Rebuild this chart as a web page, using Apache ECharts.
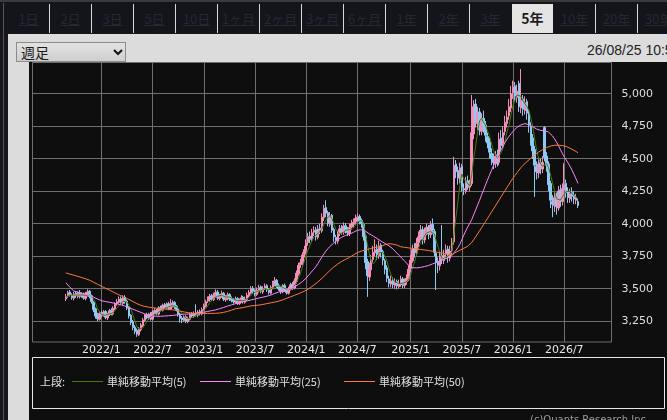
<!DOCTYPE html>
<html><head><meta charset="utf-8">
<script src="https://cdn.jsdelivr.net/npm/echarts@6.0.0/dist/echarts.min.js"></script>
<style>
html,body{margin:0;padding:0;width:667px;height:420px;overflow:hidden;background:#16181d;}
.abs{position:absolute;}
#topline{left:0;top:0;width:667px;height:2px;background:#3a3a3a;}
#tabs{left:0;top:2px;width:667px;height:31px;background:#13151a;}
.sep{top:4px;width:1px;height:29px;background:#d8d8d8;}
.tab{top:4px;height:29px;width:41px;text-align:center;line-height:29px;font-size:13px;font-family:"Noto Sans CJK JP",sans-serif;color:#25282e;text-decoration:underline;}
.tab.sel{background:#e4e4e4;color:#1e1e1e;font-weight:bold;font-size:14px;text-decoration:none;}
#leftline{left:3px;top:3px;width:1px;height:417px;background:#555;}
#panel{left:8px;top:34px;width:659px;height:386px;background:#dcdcdc;}
#plotbg{left:29px;top:62px;width:638px;height:358px;background:#0e0e0e;}
#dd{left:16px;top:42px;width:108px;height:18px;border:1px solid #8c8c8c;background:linear-gradient(#e2e2e2,#cfcfcf);}
#ddtext{left:4px;top:-1px;font-size:14px;line-height:20px;font-family:"Noto Sans CJK JP",sans-serif;color:#1a1a1a;}
#ddchev{left:96px;top:6px;}
#ts{left:587px;top:42px;font-size:14px;line-height:16px;font-family:"Liberation Sans",Arial,sans-serif;color:#222;white-space:nowrap;}
#chart{left:0;top:0;width:667px;height:420px;}
</style></head>
<body>
<div id="topline" class="abs"></div>
<div id="tabs" class="abs"></div>
<div id="leftline" class="abs"></div>
<div id="panel" class="abs"></div>
<div id="plotbg" class="abs"></div>
<div id="dd" class="abs"><div id="ddtext" class="abs">週足</div>
<svg id="ddchev" class="abs" width="10" height="7" viewBox="0 0 10 7"><polyline points="1,1 5,5 9,1" fill="none" stroke="#111" stroke-width="2"/></svg></div>
<div id="ts" class="abs">26/08/25 10:55</div>
<div id="chart" class="abs"></div>
<script>
// ---- chrome texts ----
const tabLabels = ["1日","2日","3日","5日","10日","1ヶ月","2ヶ月","3ヶ月","6ヶ月","1年","2年","3年","5年","10年","20年","30年"];
const selectedTab = "5年";

// ---- chart data (weekly, first week 2021/8/30) ----
const firstWeek = [2021, 8, 30];
const yTicks = [3250, 3500, 3750, 4000, 4250, 4500, 4750, 5000];
const maNames = ["単純移動平均(5)", "単純移動平均(25)", "単純移動平均(50)"];

const opens = [3420,3445,3475,3450,3425,3465,3440,3470,3445,3455,
3425,3455,3480,3445,3395,3345,3300,3265,3315,3295,
3325,3275,3300,3335,3305,3345,3385,3395,3425,3385,
3435,3405,3355,3295,3245,3205,3180,3145,3185,3215,
3255,3300,3275,3305,3265,3315,3335,3305,3355,3335,
3375,3355,3385,3345,3365,3395,3365,3345,3305,3275,
3255,3285,3245,3265,3305,3285,3315,3295,3325,3305,
3335,3365,3405,3415,3445,3415,3445,3475,3425,3445,
3465,3415,3425,3455,3425,3415,3395,3425,3385,3405,
3435,3395,3415,3445,3465,3505,3485,3455,3485,3515,
3475,3505,3525,3495,3465,3505,3535,3565,3525,3505,
3475,3525,3495,3465,3495,3535,3505,3555,3615,3685,
3695,3765,3795,3855,3905,3875,3935,3955,3895,3965,
3945,4045,4125,4085,3995,4065,3955,3895,3865,3925,
3965,3935,3985,3955,3925,3975,3995,4015,4035,4055,
4025,3995,3905,3710,3590,3645,3725,3775,3805,3755,
3835,3785,3715,3660,3575,3535,3565,3525,3555,3515,
3535,3575,3525,3555,3575,3655,3715,3805,3775,3855,
3895,3955,3875,3945,3975,3915,3995,3940,3775,3705,
3675,3755,3715,3765,3805,3735,3795,3860,4460,4410,
4340,4440,4270,4250,4330,4280,4310,4690,4920,4770,
4860,4710,4810,4760,4670,4630,4540,4510,4460,4530,
4470,4660,4590,4710,4770,4830,4890,5010,5060,4970,
5080,4890,4960,4870,4940,4860,4750,4660,4570,4440,
4390,4470,4420,4740,4520,4460,4310,4170,4140,4210,
4120,4260,4170,4260,4310,4250,4190,4240,4220,4180,
4170];

const closes = [3440,3470,3455,3430,3460,3445,3465,3440,3450,3430,
3460,3475,3440,3400,3340,3290,3270,3310,3300,3320,
3280,3300,3330,3310,3350,3380,3400,3420,3390,3430,
3400,3350,3290,3240,3200,3170,3150,3190,3220,3260,
3290,3280,3300,3270,3320,3330,3310,3350,3340,3370,
3360,3380,3350,3370,3390,3360,3340,3300,3270,3260,
3280,3250,3270,3300,3290,3310,3300,3320,3310,3340,
3370,3400,3420,3440,3420,3450,3470,3430,3440,3460,
3420,3430,3450,3420,3410,3400,3420,3390,3410,3430,
3400,3420,3450,3470,3500,3480,3460,3490,3510,3480,
3500,3520,3490,3470,3510,3540,3560,3520,3500,3480,
3520,3490,3470,3500,3530,3510,3560,3620,3680,3700,
3760,3800,3850,3900,3880,3930,3950,3900,3960,3950,
4050,4120,4080,4000,4060,3950,3900,3870,3920,3960,
3940,3980,3950,3930,3970,4000,4010,4040,4050,4020,
4000,3900,3700,3600,3650,3720,3780,3800,3760,3830,
3780,3720,3650,3580,3540,3560,3530,3550,3520,3540,
3570,3530,3550,3580,3650,3720,3800,3780,3850,3900,
3950,3880,3940,3970,3920,3990,3950,3780,3700,3680,
3750,3720,3760,3800,3740,3790,3850,4450,4400,4350,
4430,4280,4260,4320,4290,4300,4700,4900,4780,4850,
4720,4800,4750,4680,4620,4550,4500,4470,4520,4480,
4650,4600,4700,4780,4820,4900,5000,5050,4980,5020,
4900,4950,4880,4930,4850,4760,4650,4560,4450,4400,
4460,4430,4470,4510,4450,4300,4180,4150,4200,4130,
4250,4180,4270,4300,4240,4200,4230,4210,4190,4200,
4140];

const lows = [3405,3430,3440,3415,3410,3430,3425,3425,3430,3415,
3410,3440,3425,3385,3320,3270,3250,3255,3280,3285,
3265,3260,3290,3295,3295,3335,3370,3385,3375,3375,
3385,3335,3270,3220,3180,3150,3130,3135,3170,3205,
3245,3265,3260,3255,3255,3305,3295,3295,3325,3325,
3345,3345,3335,3335,3355,3345,3325,3285,3240,3235,
3245,3235,3235,3255,3275,3275,3285,3280,3295,3295,
3325,3355,3390,3400,3405,3405,3430,3415,3410,3430,
3405,3400,3410,3405,3395,3385,3385,3375,3375,3395,
3385,3385,3405,3430,3455,3465,3440,3445,3470,3465,
3460,3490,3475,3455,3455,3495,3520,3505,3485,3460,
3465,3475,3455,3455,3485,3490,3495,3540,3600,3660,
3680,3740,3780,3830,3850,3860,3905,3870,3880,3920,
3930,4020,4050,3980,3975,3930,3860,3840,3845,3905,
3915,3915,3925,3905,3905,3955,3970,3990,4010,3995,
3970,3870,3650,3437,3560,3620,3700,3750,3720,3730,
3740,3680,3610,3550,3510,3510,3505,3500,3495,3500,
3515,3505,3505,3530,3560,3630,3700,3740,3750,3820,
3870,3840,3850,3910,3880,3890,3920,3750,3490,3620,
3640,3690,3690,3730,3700,3710,3760,3840,4350,4300,
4310,4250,4220,4230,4260,4250,4290,4650,4740,4720,
4680,4680,4700,4630,4580,4500,4450,4420,4430,4440,
4450,4560,4570,4680,4740,4800,4860,4960,4940,4930,
4860,4850,4830,4840,4800,4700,4600,4500,4206,4340,
4350,4380,4390,4480,4400,4250,4120,4050,4090,4070,
4100,4130,4140,4230,4200,4160,4160,4170,4150,4150,
4120];

const highs = [3460,3485,3490,3465,3475,3480,3480,3490,3470,3470,
3475,3495,3490,3455,3405,3355,3315,3325,3330,3335,
3335,3315,3345,3350,3365,3395,3420,3440,3440,3450,
3450,3415,3365,3305,3260,3220,3195,3205,3235,3275,
3305,3315,3315,3320,3335,3350,3345,3365,3370,3385,
3390,3395,3400,3420,3410,3405,3375,3355,3315,3290,
3295,3295,3285,3315,3320,3325,3380,3335,3340,3355,
3385,3415,3440,3460,3460,3470,3495,3490,3460,3485,
3475,3450,3470,3465,3440,3430,3440,3435,3425,3450,
3445,3440,3470,3490,3520,3520,3495,3510,3530,3525,
3520,3540,3535,3505,3525,3560,3590,3575,3540,3515,
3535,3540,3505,3515,3545,3550,3580,3640,3700,3730,
3780,3830,3880,3930,3940,3960,3980,3975,3990,4000,
4080,4145,4180,4100,4090,4075,3970,3915,3945,3990,
3990,4010,4005,3975,4000,4030,4040,4070,4080,4070,
4040,4010,3920,3730,3700,3760,3830,3880,3840,3870,
3850,3800,3730,3680,3600,3600,3590,3580,3570,3570,
3600,3590,3580,3610,3680,3760,3840,3850,3890,3940,
3990,3980,3970,4000,3990,4020,4040,3960,3800,3740,
3790,3990,3800,3840,3830,3830,3890,4515,4490,4440,
4470,4460,4310,4360,4370,4340,4990,4950,4960,4900,
4890,4850,4870,4790,4700,4660,4580,4540,4560,4570,
4700,4720,4750,4830,4870,4960,5060,5100,5090,5070,
5100,5190,4990,4980,4960,4880,4780,4690,4600,4480,
4510,4500,4520,4750,4550,4480,4330,4220,4250,4240,
4290,4300,4310,4465,4340,4280,4270,4280,4250,4230,
4190];

const ma5 = [3435,3445,3450,3445,3451,3452,3451,3448,3452,3446,
3449,3451,3451,3441,3423,3389,3348,3322,3302,3298,
3296,3302,3306,3308,3314,3334,3354,3372,3388,3404,
3408,3398,3372,3342,3296,3250,3210,3190,3186,3198,
3222,3248,3270,3280,3292,3300,3306,3316,3330,3340,
3346,3360,3360,3366,3370,3370,3362,3352,3332,3306,
3290,3272,3266,3272,3278,3284,3294,3304,3306,3316,
3328,3348,3368,3394,3410,3426,3440,3442,3442,3450,
3444,3436,3440,3436,3426,3422,3420,3408,3406,3410,
3410,3410,3422,3434,3448,3464,3472,3480,3488,3484,
3488,3500,3500,3492,3498,3506,3514,3520,3526,3520,
3516,3502,3492,3492,3502,3500,3514,3544,3580,3614,
3664,3712,3758,3802,3838,3872,3902,3912,3924,3938,
3962,3996,4032,4040,4062,4042,3998,3956,3940,3920,
3918,3934,3950,3952,3954,3966,3972,3990,4014,4024,
4024,4002,3934,3844,3770,3714,3690,3710,3742,3778,
3790,3778,3748,3712,3654,3610,3572,3552,3540,3540,
3542,3542,3542,3554,3576,3606,3660,3706,3760,3810,
3856,3872,3904,3928,3932,3940,3954,3922,3868,3820,
3772,3726,3722,3742,3754,3762,3788,3926,4046,4168,
4296,4382,4344,4328,4316,4290,4374,4502,4594,4706,
4790,4810,4780,4760,4714,4680,4620,4564,4532,4504,
4524,4544,4590,4642,4710,4760,4840,4910,4950,4990,
4990,4980,4946,4936,4902,4874,4814,4750,4654,4564,
4504,4460,4442,4454,4464,4432,4382,4318,4256,4192,
4182,4182,4206,4226,4248,4238,4248,4236,4214,4206,
4194];

const ma25 = [3545,3530,3510,3495,3482,3476,3473,3470,3466,3462,
3458,3454,3448,3442,3435,3428,3421,3414,3408,3404,
3401,3398,3396,3393,3390,3387,3383,3379,3375,3371,
3366,3360,3354,3348,3342,3336,3330,3324,3318,3312,
3306,3301,3296,3293,3290,3289,3288,3288,3288,3289,
3290,3291,3292,3293,3294,3296,3298,3300,3302,3303,
3304,3305,3305,3305,3306,3307,3309,3311,3313,3316,
3319,3322,3325,3328,3331,3334,3337,3341,3346,3351,
3356,3361,3366,3371,3376,3380,3384,3388,3392,3396,
3400,3403,3406,3410,3414,3418,3421,3424,3428,3432,
3435,3438,3442,3446,3451,3458,3464,3469,3474,3478,
3482,3486,3490,3494,3500,3506,3514,3522,3532,3543,
3554,3566,3582,3600,3618,3636,3652,3672,3695,3720,
3745,3768,3790,3808,3825,3838,3852,3864,3875,3886,
3896,3904,3910,3915,3920,3926,3934,3942,3950,3954,
3953,3950,3943,3932,3922,3914,3905,3896,3886,3876,
3866,3856,3848,3840,3830,3820,3806,3790,3774,3758,
3744,3728,3712,3696,3680,3668,3662,3660,3660,3662,
3664,3666,3670,3674,3678,3684,3690,3696,3702,3708,
3714,3720,3726,3732,3738,3745,3755,3775,3795,3815,
3840,3878,3912,3945,3975,4002,4030,4068,4105,4143,
4180,4220,4258,4297,4335,4372,4408,4444,4479,4512,
4542,4570,4598,4626,4652,4672,4692,4710,4726,4742,
4752,4760,4766,4770,4768,4762,4754,4746,4736,4728,
4722,4718,4716,4715,4713,4705,4692,4676,4655,4630,
4602,4572,4542,4514,4490,4466,4440,4410,4378,4344,
4310];

const ma50 = [3622,3617,3612,3608,3604,3600,3595,3591,3586,3581,
3576,3571,3565,3558,3550,3542,3534,3527,3519,3511,
3504,3497,3490,3482,3474,3466,3459,3452,3445,3438,
3431,3425,3417,3410,3401,3393,3385,3378,3372,3367,
3364,3361,3358,3356,3354,3352,3350,3348,3346,3345,
3343,3342,3341,3340,3338,3335,3333,3330,3327,3324,
3321,3318,3316,3314,3312,3311,3310,3309,3309,3309,
3309,3309,3310,3310,3310,3310,3311,3312,3313,3315,
3318,3321,3325,3330,3335,3340,3345,3348,3350,3353,
3355,3358,3362,3366,3368,3370,3371,3372,3374,3376,
3379,3382,3385,3388,3391,3394,3397,3400,3404,3409,
3414,3420,3426,3432,3437,3443,3449,3455,3461,3468,
3474,3481,3488,3497,3507,3518,3529,3541,3553,3566,
3580,3595,3610,3625,3640,3655,3668,3679,3690,3700,
3710,3718,3726,3733,3741,3750,3760,3770,3778,3784,
3789,3794,3798,3802,3806,3810,3814,3817,3820,3823,
3827,3832,3838,3845,3846,3845,3843,3840,3836,3830,
3823,3820,3818,3816,3814,3812,3810,3808,3806,3804,
3802,3800,3798,3796,3794,3791,3788,3786,3783,3780,
3777,3774,3771,3768,3766,3764,3764,3770,3780,3788,
3796,3804,3811,3818,3826,3835,3855,3877,3899,3922,
3945,3968,3992,4016,4040,4064,4088,4112,4136,4160,
4184,4208,4232,4256,4280,4304,4328,4350,4371,4392,
4412,4431,4448,4463,4477,4490,4503,4516,4528,4540,
4551,4561,4570,4578,4585,4592,4597,4601,4603,4604,
4604,4603,4601,4598,4594,4588,4580,4572,4564,4555,
4546];

// ---- build tabs ----
const tabsEl = document.getElementById('tabs');
tabLabels.forEach((t, k) => {
  const x = 7 + 42 * k;
  const d = document.createElement('div');
  d.className = 'abs tab' + (t === selectedTab ? ' sel' : '');
  d.style.left = (x + 1) + 'px';
  d.style.top = '2px';
  d.textContent = t;
  tabsEl.appendChild(d);
  if (k > 0 && t !== selectedTab && tabLabels[k - 1] !== selectedTab) {
    const s = document.createElement('div');
    s.className = 'abs sep';
    s.style.left = x + 'px';
    s.style.top = '2px';
    tabsEl.appendChild(s);
  }
});

// ---- categories (weekly) with empty padding on both sides ----
const PAD = 17;
const N = closes.length;
const t0 = Date.UTC(firstWeek[0], firstWeek[1] - 1, firstWeek[2]);
const cats = [];
for (let k = -PAD; k < N + PAD; k++) {
  const d = new Date(t0 + k * 7 * 86400000);
  cats.push(d.getUTCFullYear() + '/' + (d.getUTCMonth() + 1) + '/' + d.getUTCDate());
}
const isHalfStart = (idx, val) => {
  if (idx < PAD || idx >= PAD + N) return false;
  const p = String(val).split('/').map(Number);
  return (p[1] === 1 || p[1] === 7) && p[2] <= 7;
};
const padArr = new Array(PAD).fill('-');
const padCandle = new Array(PAD).fill(['-', '-', '-', '-']);
const candleData = padCandle.concat(closes.map((c, i) => [opens[i], c, lows[i], highs[i]])).concat(padCandle);
const padLine = a => padArr.concat(a).concat(padArr);

const chart = echarts.init(document.getElementById('chart'));
const gridColor = '#6f6f6f';
const maColors = ['#3f7d05', '#ff84ff', '#ff7a3c'];
const legendLineX = [72, 200, 344];
const legendY = 381.5;

const legendGraphics = [];
maNames.forEach((n, k) => {
  legendGraphics.push({ type: 'line', shape: { x1: legendLineX[k], y1: legendY, x2: legendLineX[k] + 31, y2: legendY },
    style: { stroke: maColors[k], lineWidth: 1 }, silent: true });
  legendGraphics.push({ type: 'text', x: legendLineX[k] + 35, y: legendY,
    style: { text: n, fill: '#e0e0e0', font: '11px "Noto Sans CJK JP"', verticalAlign: 'middle' }, silent: true });
});

chart.setOption({
  backgroundColor: 'transparent',
  animation: false,
  grid: { left: 32.5, right: 55.5, top: 62.5, bottom: 78, show: true, borderColor: gridColor, borderWidth: 1, containLabel: false, outerBoundsMode: 'none' },
  xAxis: {
    type: 'category', data: cats, boundaryGap: false,
    axisLine: { show: false }, axisTick: { show: false },
    splitLine: { show: true, interval: isHalfStart, lineStyle: { color: gridColor, width: 1 } },
    axisLabel: { interval: isHalfStart, margin: 3, color: '#e8e8e8', fontSize: 11, fontFamily: 'DejaVu Sans',
      formatter: v => { const p = v.split('/'); return p[0] + '/' + p[1]; } }
  },
  yAxis: {
    type: 'value', position: 'right', min: 3090, max: 5240, scale: true,
    axisLine: { show: false },
    axisTick: { show: false, customValues: yTicks },
    splitLine: { show: true, lineStyle: { color: gridColor, width: 1 } },
    axisLabel: { customValues: yTicks, margin: 10, color: '#dedede', fontSize: 11, fontFamily: 'DejaVu Sans',
      formatter: v => String(v).replace(/\B(?=(\d{3})+(?!\d))/g, ',') }
  },
  graphic: [
    { type: 'rect', shape: { x: 32.5, y: 357.5, width: 632, height: 51 }, style: { fill: 'none', stroke: '#e8e8e8', lineWidth: 1 }, silent: true },
    { type: 'text', x: 40, y: legendY, style: { text: '上段:', fill: '#e0e0e0', font: '11px "Noto Sans CJK JP"', verticalAlign: 'middle' }, silent: true },
    ...legendGraphics,
    { type: 'text', x: 530, y: 415, style: { text: '(c)Quants Research Inc.', fill: '#9a9a9a', font: '10px "DejaVu Sans"', verticalAlign: 'top' }, silent: true }
  ],
  series: [
    { type: 'candlestick', name: 'price', data: candleData, barWidth: 2,
      itemStyle: { color: '#f48fb8', color0: '#90c8f4', borderColor: '#f48fb8', borderColor0: '#90c8f4', borderWidth: 1 } },
    ...[ma5, ma25, ma50].map((a, k) => ({
      type: 'line', name: maNames[k], data: padLine(a), symbol: 'none', showSymbol: false, color: maColors[k],
      lineStyle: { color: maColors[k], width: 1 }, itemStyle: { color: maColors[k] }
    }))
  ]
});
</script>
</body></html>
